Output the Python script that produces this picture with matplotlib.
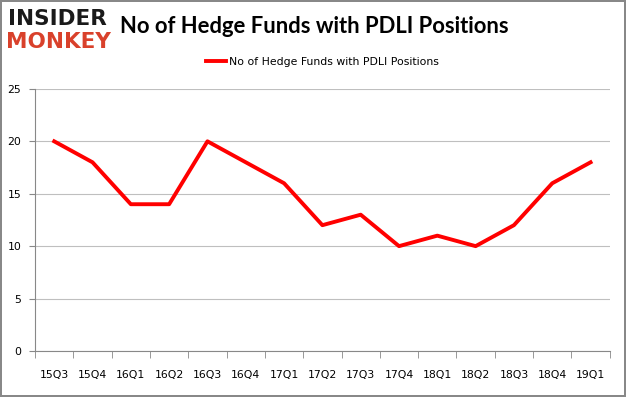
import matplotlib.pyplot as plt
import numpy as np

quarters = ['15Q3', '15Q4', '16Q1', '16Q2', '16Q3', '16Q4', '17Q1', '17Q2',
            '17Q3', '17Q4', '18Q1', '18Q2', '18Q3', '18Q4', '19Q1']
funds = [20, 18, 14, 14, 20, 18, 16, 12, 13, 10, 11, 10, 12, 16, 18]
y_ticks = [0, 5, 10, 15, 20, 25]

fig = plt.figure(figsize=(6.26, 3.97), dpi=100)
fig.patch.set_edgecolor('#888888')
fig.patch.set_linewidth(1.5)
ax = fig.add_axes([0.056, 0.116, 0.918, 0.66])

x = np.arange(len(quarters))
ax.plot(x, funds, color='#ff0000', linewidth=2.8, label='No of Hedge Funds with PDLI Positions')

ax.set_xlim(-0.5, len(quarters) - 0.5)
ax.set_ylim(0, 25)
ax.set_yticks(y_ticks)
ax.set_xticks(x)
ax.set_xticklabels(quarters, fontsize=7.8)
ax.set_xticks(np.arange(-0.5, len(quarters), 1), minor=True)
ax.tick_params(axis='x', which='major', length=0, pad=14)
ax.tick_params(axis='x', which='minor', length=5, color='#888888')
ax.tick_params(axis='y', length=4, color='#888888', labelsize=7.8, pad=6)
ax.grid(axis='y', color='#bfbfbf', linewidth=0.8)
ax.set_axisbelow(True)
for s in ['top', 'right']:
    ax.spines[s].set_visible(False)
ax.spines['left'].set_color('#888888')
ax.spines['bottom'].set_color('#888888')

fig.text(0.192, 0.932, 'No of Hedge Funds with PDLI Positions', fontsize=15.8,
         fontweight='bold', family='Lato', va='center')
fig.text(0.012, 0.953, 'INSIDER', fontsize=15.5, fontweight='heavy', color='#1a1a1a',
         va='center', family='DejaVu Sans')
fig.text(0.010, 0.893, 'MONKEY', fontsize=15.5, fontweight='heavy', color='#d9412b',
         va='center', family='DejaVu Sans')

ax.legend(loc='center', bbox_to_anchor=(0.5, 1.103), frameon=False,
          fontsize=7.8, handlelength=1.9, handletextpad=0.3)

fig.savefig('out.png', dpi=100, edgecolor=fig.get_edgecolor())
